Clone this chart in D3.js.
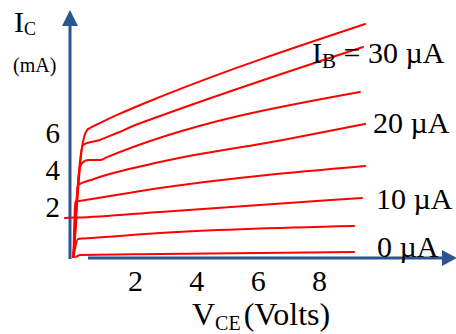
<!DOCTYPE html>
<html><head><meta charset="utf-8">
<script src="https://cdn.jsdelivr.net/npm/d3@7"></script>
<style>
body{margin:0;background:#fff}
svg{display:block}
text{font-family:"Liberation Serif","Times New Roman",serif;fill:#000}
</style>
</head><body><svg id="c" width="456" height="334" font-family="Liberation Serif"></svg>
<script>
// Base currents (µA) for each output-characteristic curve, top to bottom
const baseCurrents = [35, 30, 25, 20, 15, 10, 5, 0];
// Each curve: [V_CE (volts), I_C (mA)]
const curveIb35 = [[0,0],[0.28,5.98],[0.44,6.90],[0.54,7.01],[0.86,7.28],[1.42,7.72],[1.94,8.10],[2.82,8.70],[9.50,12.66]];
const curveIb30 = [[0,0],[0.31,6.09],[0.86,6.36],[1.42,6.74],[1.94,7.12],[2.82,7.66],[9.43,11.41]];
const curveIb25 = [[0,0],[0.21,4.89],[0.37,5.22],[0.50,5.27],[0.86,5.27],[1.09,5.43],[9.33,8.97]];
const curveIb20 = [[0,0],[0.15,3.91],[0.60,4.20],[2.82,5.16],[6.82,6.36],[9.50,7.23]];
const curveIb15 = [[0,0],[0.05,2.99],[0.50,3.12],[2.82,3.75],[9.50,4.95]];
const curveIb10 = [[-0.28,2.12],[0.10,2.14],[2.82,2.45],[9.40,3.21]];
const riseIb10  = [[0,0],[0.10,2.14]];
const curveIb5  = [[0,0],[0.15,0.98],[0.60,1.03],[2.82,1.30],[9.14,1.68]];
const curveIb0  = [[0.08,0],[0.21,0.11],[2.82,0.16],[9.14,0.27]];
const curves = [curveIb35, curveIb30, curveIb25, curveIb20, curveIb15, curveIb10, riseIb10, curveIb5, curveIb0];

const xTickValues = [2, 4, 6, 8];
const yTickValues = [2, 4, 6];
const curveLabelValues = ["30", "20", "10", "0"];

const svg = d3.select("#c");
const axisColor = "#2b5590";
const red = "#ff0000";
const serif = '"Liberation Serif","Times New Roman",serif';

const x = d3.scaleLinear().domain([0, 10]).range([73.5, 380.5]);
const y = d3.scaleLinear().domain([0, 12]).range([257, 257 - 12 * 18.4]);

// axes lines
svg.append("line").attr("x1", 70).attr("x2", 70).attr("y1", 259).attr("y2", 24)
  .attr("stroke", axisColor).attr("stroke-width", 3);
svg.append("path").attr("d", "M70,10 L78,26 L62,26 Z").attr("fill", axisColor);
svg.append("line").attr("x1", 88).attr("x2", 445).attr("y1", 258).attr("y2", 258)
  .attr("stroke", axisColor).attr("stroke-width", 3);
svg.append("path").attr("d", "M457,258 L442,250 L442,266 Z").attr("fill", axisColor);

// tick labels via d3 axes
const gx = svg.append("g").attr("transform", "translate(0,258)")
  .call(d3.axisBottom(x).tickValues(xTickValues).tickSize(0).tickPadding(12).tickFormat(d3.format("d")));
gx.attr("font-family", serif).select(".domain").remove();
gx.selectAll("text").style("font-size", "30px").style("font-family", serif).attr("fill", "#000");

const gy = svg.append("g").attr("transform", "translate(70,0)")
  .call(d3.axisLeft(y).tickValues(yTickValues).tickSize(0).tickPadding(10).tickFormat(d3.format("d")));
gy.attr("font-family", serif).select(".domain").remove();
gy.selectAll("text").style("font-size", "29px").style("font-family", serif).attr("fill", "#000")
  .attr("transform", "translate(0,-13)");

// curves
const line = d3.line().x(d => x(d[0])).y(d => y(d[1])).curve(d3.curveMonotoneX);
svg.append("g").selectAll("path").data(curves).join("path")
  .attr("d", line).attr("fill", "none").attr("stroke", red)
  .attr("stroke-width", 2).attr("stroke-linejoin", "round").attr("stroke-linecap", "round");

// axis titles
const ic = svg.append("text").attr("x", 14).attr("y", 32).style("font-size", "30px");
ic.append("tspan").text("I");
ic.append("tspan").attr("dy", 3).style("font-size", "18px").text("C");
svg.append("text").attr("x", 13).attr("y", 72).style("font-size", "20px").text("(mA)");

const vce = svg.append("text").attr("x", 192).attr("y", 325).style("font-size", "32px");
vce.append("tspan").text("V");
vce.append("tspan").attr("dy", 5).style("font-size", "20px").text("CE");
vce.append("tspan").attr("dy", -5).attr("dx", 3).text("(Volts)");

// curve labels
const lab30 = svg.append("text").attr("x", 312).attr("y", 63).style("font-size", "30px");
lab30.append("tspan").text("I");
lab30.append("tspan").attr("dy", 5).style("font-size", "21px").text("B");
lab30.append("tspan").attr("dy", -5).text(" = " + curveLabelValues[0] + " µA");
svg.append("text").attr("x", 373).attr("y", 133).style("font-size", "30px").text(curveLabelValues[1] + " µA");
svg.append("text").attr("x", 376).attr("y", 209).style("font-size", "30px").text(curveLabelValues[2] + " µA");
svg.append("text").attr("x", 377).attr("y", 257).style("font-size", "30px").text(curveLabelValues[3] + " µA");
</script>
</body></html>
